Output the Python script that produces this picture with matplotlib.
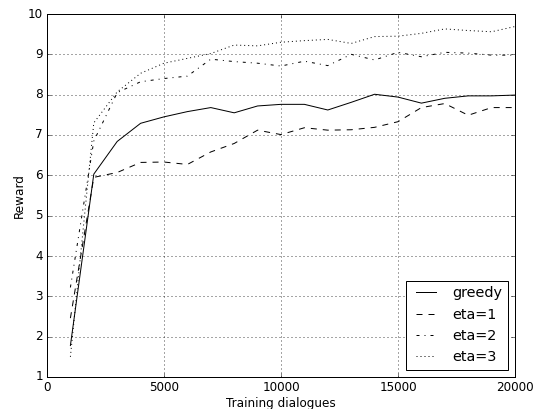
import matplotlib
matplotlib.use('Agg')
from matplotlib import pyplot as plt

dialogues = [1000, 2000, 3000, 4000, 5000, 6000, 7000, 8000, 9000, 10000,
             11000, 12000, 13000, 14000, 15000, 16000, 17000, 18000, 19000, 20000]
greedy = [1.78, 6.03, 6.84, 7.29, 7.45, 7.58, 7.68, 7.55, 7.72, 7.76,
          7.76, 7.62, 7.81, 8.01, 7.94, 7.79, 7.91, 7.97, 7.97, 7.99]
eta1 = [2.46, 5.95, 6.07, 6.32, 6.33, 6.27, 6.58, 6.79, 7.12, 7.01,
        7.18, 7.12, 7.13, 7.19, 7.33, 7.68, 7.78, 7.49, 7.68, 7.68]
eta2 = [3.22, 6.85, 8.05, 8.32, 8.40, 8.46, 8.88, 8.82, 8.78, 8.71,
        8.83, 8.72, 9.00, 8.86, 9.05, 8.94, 9.05, 9.03, 8.98, 8.98]
eta3 = [1.50, 7.30, 8.07, 8.53, 8.78, 8.90, 9.02, 9.23, 9.21, 9.30,
        9.34, 9.37, 9.27, 9.44, 9.45, 9.52, 9.63, 9.59, 9.56, 9.69]

plt.style.use('classic')
fig = plt.figure(figsize=(543/72., 409/72.), dpi=72, facecolor='white')
ax = fig.add_axes([47/543., 32/409., 468/543., 363/409.])

ax.plot(dialogues, greedy, 'k-', label='greedy')
ax.plot(dialogues, eta1, 'k--', label='eta=1')
ax.plot(dialogues, eta2, 'k-.', label='eta=2')
ax.plot(dialogues, eta3, 'k:', label='eta=3')

ax.set_xlim(0, 20000)
ax.set_ylim(1, 10)
ax.set_xticks([0, 5000, 10000, 15000, 20000])
ax.set_yticks(range(1, 11))
ax.grid(True, color='k', linestyle=':', linewidth=0.7)
ax.set_xlabel('Training dialogues', labelpad=3)
ax.set_ylabel('Reward', labelpad=1.5)
ax.legend(loc='lower right')

fig.savefig('out.png', dpi=72, facecolor='white')
